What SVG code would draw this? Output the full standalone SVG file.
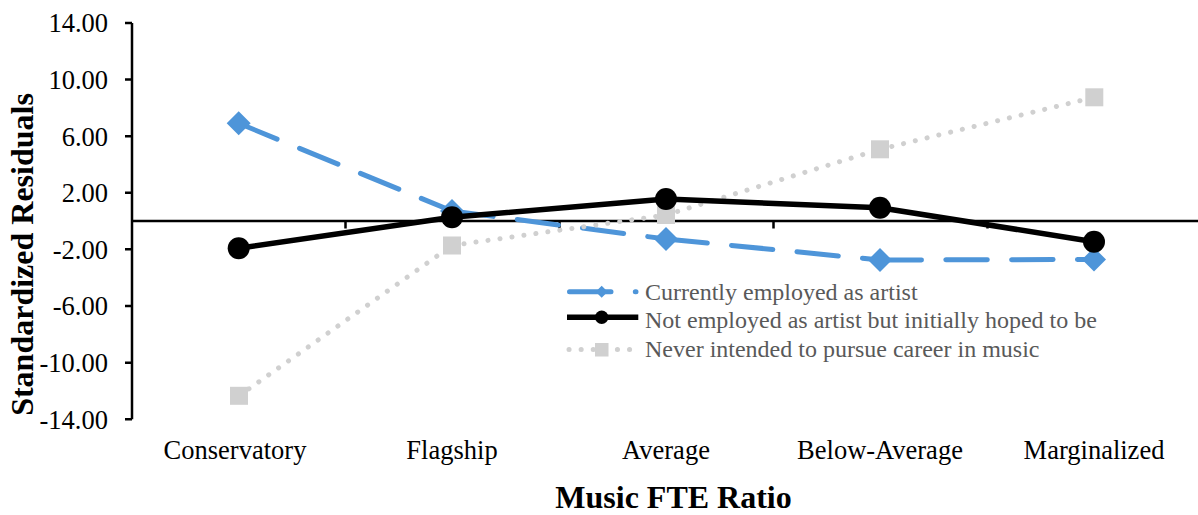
<svg xmlns="http://www.w3.org/2000/svg" width="1198" height="515" viewBox="0 0 1198 515">
<style>
text{font-family:"Liberation Serif","Times New Roman",serif;fill:#000}
.tick{font-size:26.5px;text-anchor:end}
.cat{font-size:26.5px;text-anchor:middle}
.title{font-size:32px;font-weight:bold;text-anchor:middle}
.leg{font-size:24px;fill:#595959}
.axis{stroke:#000;stroke-width:2.5;fill:none}
.blue{stroke:#4E95D9;stroke-width:5;fill:none;stroke-linecap:round;stroke-dasharray:41.5 24.3}
.black{stroke:#000;stroke-width:5.5;fill:none;stroke-linejoin:round}
.gray{stroke:#D0D0D0;stroke-width:5;fill:none;stroke-linecap:round;stroke-dasharray:0.1 12}
.dia{fill:#4E95D9}
.cir{fill:#000}
.sq{fill:#D0D0D0}
</style>
<rect width="1198" height="515" fill="#fff"/>
<g id="axes">
<path class="axis" d="M132 23V419.3M125 23H132M125 79.6H132M125 136.2H132M125 192.7H132M125 249.3H132M125 306H132M125 362.7H132M125 419.3H132"/>
<path class="axis" d="M132 221H1198M345.5 221V228.5M559.5 221V228.5M773.5 221V228.5M987.5 221V228.5" stroke-width="2.3"/>
</g>
<g id="y-labels">
<text class="tick" x="108" y="32.3">14.00</text>
<text class="tick" x="108" y="88.9">10.00</text>
<text class="tick" x="108" y="145.5">6.00</text>
<text class="tick" x="108" y="202">2.00</text>
<text class="tick" x="108" y="258.6">-2.00</text>
<text class="tick" x="108" y="315.3">-6.00</text>
<text class="tick" x="108" y="372">-10.00</text>
<text class="tick" x="108" y="428.6">-14.00</text>
</g>
<g id="x-labels">
<text class="cat" x="235" y="459">Conservatory</text>
<text class="cat" x="452" y="459">Flagship</text>
<text class="cat" x="666" y="459">Average</text>
<text class="cat" x="880" y="459">Below-Average</text>
<text class="cat" x="1094" y="459">Marginalized</text>
</g>
<g id="titles">
<text class="title" x="673.5" y="508">Music FTE Ratio</text>
<text class="title" transform="translate(33 254.5) rotate(-90)" x="0" y="0">Standardized Residuals</text>
</g>
<g id="connectors">
<path id="line-current" class="blue" d="M238.7 123.3L452 211M452 211L666 239M666 239L880 260M880 260L1094 259.5"/>
<path id="line-never" class="gray" d="M239 395.8L452 245.5M452 245.5L666 215M666 215L880 149.3M880 149.3L1094.3 97.3"/>
<path id="line-hoped" class="black" d="M238.7 248.3L452 217.3L666 199L880 207.7L1094 241.7"/>
</g>
<g id="series-current">
<path class="dia" d="M238.7 111.3l12 12-12 12-12-12z"/>
<path class="dia" d="M452 199l12 12-12 12-12-12z"/>
<path class="dia" d="M666 227l12 12-12 12-12-12z"/>
<path class="dia" d="M880 248l12 12-12 12-12-12z"/>
<path class="dia" d="M1094 247.5l12 12-12 12-12-12z"/>
</g>
<g id="series-never">
<rect class="sq" x="230" y="386.8" width="18" height="18"/>
<rect class="sq" x="443" y="236.5" width="18" height="18"/>
<rect class="sq" x="657" y="206" width="18" height="18"/>
<rect class="sq" x="871" y="140.3" width="18" height="18"/>
<rect class="sq" x="1085.3" y="88.3" width="18" height="18"/>
</g>
<g id="series-hoped">
<circle class="cir" cx="238.7" cy="248.3" r="11"/>
<circle class="cir" cx="452" cy="217.3" r="11"/>
<circle class="cir" cx="666" cy="199" r="11"/>
<circle class="cir" cx="880" cy="207.7" r="11"/>
<circle class="cir" cx="1094" cy="241.7" r="11"/>
</g>
<g id="legend">
<g id="legend-current">
<path class="blue" d="M569.5 291.7H636"/>
<path class="dia" d="M601.7 285.7l6 6-6 6-6-6z"/>
<text class="leg" x="645" y="300">Currently employed as artist</text>
</g>
<g id="legend-hoped">
<path class="black" d="M567 317.3H638.3" stroke-width="5"/>
<circle class="cir" cx="601.7" cy="317.3" r="6.7"/>
<text class="leg" x="645" y="328">Not employed as artist but initially hoped to be</text>
</g>
<g id="legend-never">
<path class="gray" d="M569 349.5H630" stroke-dasharray="0.1 11.8"/>
<rect class="sq" x="595" y="343" width="13.5" height="13.5"/>
<text class="leg" x="645" y="357">Never intended to pursue career in music</text>
</g>
</g>
</svg>
